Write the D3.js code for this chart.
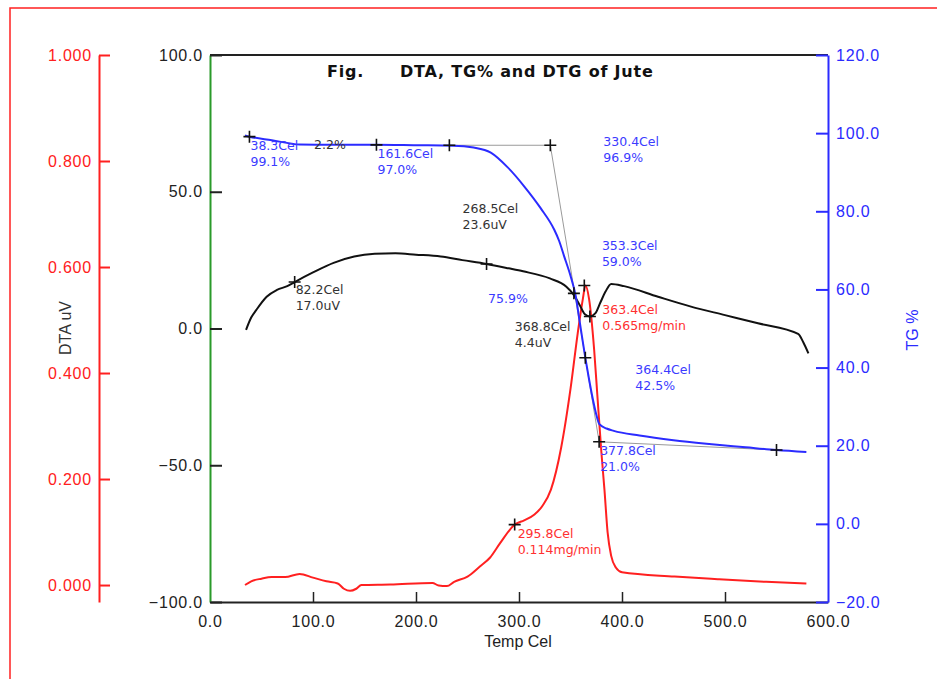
<!DOCTYPE html>
<html>
<head>
<meta charset="utf-8">
<script src="https://cdn.jsdelivr.net/npm/d3@7"></script>
<style>
  body { margin: 0; background: #fff; }
  svg { display: block; }
  .axis text { font-family: "Liberation Sans", Arial, sans-serif; font-size: 16px; letter-spacing: 0.8px; }
  .note { font-family: "DejaVu Sans", Verdana, sans-serif; font-size: 12.5px; }
</style>
</head>
<body>
<div id="chart"></div>
<script>
const width = 937, height = 679;

// DTA (uV) vs temperature (Cel)
const dtaTemp = [35, 40, 45, 55, 65, 75, 82.2, 100, 120, 140, 160, 180, 200, 224, 245, 268.5, 290, 304, 330, 346, 353, 359, 364, 368.8, 374, 379, 384, 389.5, 402, 435, 467, 500, 532, 571, 576, 581];
const dtaVal = [-0.5, 4, 6.8, 11.6, 14.1, 15.5, 17.0, 20.5, 24, 26.3, 27.3, 27.5, 27.0, 26.3, 25.0, 23.6, 22.0, 20.9, 18.3, 15.3, 12.4, 8.5, 5.2, 4.4, 5.5, 9.5, 13.5, 16.3, 15.5, 11.6, 8.0, 4.9, 1.9, -2.0, -5.0, -9.1];

// TG (%) vs temperature
const tgTemp = [34, 38.3, 60, 87, 120, 161.6, 200, 236, 256, 272.6, 288.8, 305, 321, 334, 339, 343.7, 350, 355, 359, 364.4, 368, 372, 375, 378, 385, 392, 417, 450, 482, 520, 550, 579];
const tgVal = [99.4, 99.1, 98.2, 97.1, 97.0, 97.0, 96.9, 96.8, 96.3, 95.0, 91.3, 86.4, 80.8, 75.4, 72.4, 68.6, 63.5, 58.4, 51.6, 42.5, 37, 31.5, 28, 25.5, 24.4, 23.8, 22.6, 21.4, 20.5, 19.6, 18.9, 18.4];

// DTG (mg/min) vs temperature
const dtgTemp = [34, 40, 50, 60, 73, 87, 100, 113, 124, 130, 136, 142, 147, 175, 216, 222, 230, 237, 250, 262, 272, 282, 295.8, 305, 315, 323, 331, 341, 350, 357, 362, 364.5, 368, 373, 376, 380, 383, 386, 389.5, 394, 400, 451, 493, 540, 579];
const dtgVal = [0.0, 0.007, 0.012, 0.015, 0.015, 0.021, 0.014, 0.007, 0.003, -0.007, -0.011, -0.007, 0.0, 0.001, 0.004, -0.001, -0.002, 0.006, 0.016, 0.035, 0.052, 0.080, 0.114, 0.122, 0.133, 0.150, 0.180, 0.26, 0.37, 0.475, 0.54, 0.565, 0.54, 0.443, 0.36, 0.25, 0.179, 0.1, 0.055, 0.033, 0.024, 0.016, 0.011, 0.006, 0.003];

// tick labels
const xTicks = [0, 100, 200, 300, 400, 500, 600];
const dtaTicks = [-100, -50, 0, 50, 100];
const tgTicks = [-20, 0, 20, 40, 60, 80, 100, 120];
const dtgTicks = [0, 0.2, 0.4, 0.6, 0.8, 1.0];

// analysis markers: [temp, value]
const tgMarks = [[38.3, 99.1], [161.6, 97.0], [232.4, 96.9], [330.4, 96.9], [353.3, 59.0], [364.4, 42.5], [377.8, 21.0], [550, 18.9]];
const dtaMarks = [[82.2, 17.0], [268.5, 23.6], [368.8, 4.4]];
const dtgMarks = [[295.8, 0.114], [363.4, 0.565]];

// gray construction lines on TG (temp, %)
const tgGuides = [
  [[232.4, 96.9], [330.4, 96.9]],
  [[330.4, 96.9], [377.8, 21.0]],
  [[377.8, 21.0], [550, 18.9]]
];

// TG annotations: [temp, value, line1, line2]
const tgNotes = [
  [38.3, 99.1, "38.3Cel", "99.1%"],
  [161.6, 97.0, "161.6Cel", "97.0%"],
  [377.8, 21.0, "377.8Cel", "21.0%"]
];

const x = d3.scaleLinear([0, 600], [210, 828]);
const yDTA = d3.scaleLinear([-100, 100], [602, 55]);
const yTG = d3.scaleLinear([-20, 120], [602, 55]);
const yDTG = d3.scaleLinear([-0.032, 1.0], [602, 55]);

const blue = "#2b2bff", red = "#ff2020", green = "#2a9a2a";

const svg = d3.select("#chart").append("svg")
  .attr("width", width).attr("height", height);

// red page frame (only top and left edges are on the page)
svg.append("path")
  .attr("d", `M10,${height}V8H${width}`)
  .attr("fill", "none").attr("stroke", red).attr("stroke-width", 1.5);

// top border
svg.append("line")
  .attr("x1", x(0)).attr("x2", x(600)).attr("y1", 55).attr("y2", 55)
  .attr("stroke", "#222").attr("stroke-width", 2);

// bottom axis
const gx = svg.append("g").attr("class", "axis")
  .attr("transform", "translate(0,602)")
  .call(d3.axisBottom(x).tickValues(xTicks).tickFormat(d3.format(".1f"))
    .tickSize(-10).tickSizeOuter(0).tickPadding(14));
gx.select(".domain").attr("stroke", "#222").attr("stroke-width", 2);
gx.selectAll(".tick line").attr("stroke", "#222").attr("stroke-width", 1.5)
  .attr("opacity", d => (d === 0 || d === 600) ? 0 : 1);
gx.selectAll(".tick text").attr("fill", "#222");

// DTA axis (left, green)
const gDta = svg.append("g").attr("class", "axis")
  .attr("transform", `translate(${x(0)},0)`)
  .call(d3.axisLeft(yDTA).tickValues(dtaTicks).tickFormat(d3.format(".1f"))
    .tickSize(-12).tickSizeOuter(0).tickPadding(7));
gDta.select(".domain").attr("stroke", green).attr("stroke-width", 2);
gDta.selectAll(".tick line").attr("stroke", "#222").attr("stroke-width", 2);
gDta.selectAll(".tick text").attr("fill", "#222");

// DTG axis (outer left, red)
const gDtg = svg.append("g").attr("class", "axis")
  .attr("transform", "translate(99,0)")
  .call(d3.axisLeft(yDTG).tickValues(dtgTicks).tickFormat(d3.format(".3f"))
    .tickSize(-11).tickSizeOuter(0).tickPadding(7));
gDtg.select(".domain").attr("stroke", red).attr("stroke-width", 2);
gDtg.selectAll(".tick line").attr("stroke", red).attr("stroke-width", 2);
gDtg.selectAll(".tick text").attr("fill", red);

// TG axis (right, blue)
const gTg = svg.append("g").attr("class", "axis")
  .attr("transform", `translate(${x(600)},0)`)
  .call(d3.axisRight(yTG).tickValues(tgTicks).tickFormat(d3.format(".1f"))
    .tickSize(-12).tickSizeOuter(0).tickPadding(8));
gTg.select(".domain").attr("stroke", blue).attr("stroke-width", 2);
gTg.selectAll(".tick line").attr("stroke", blue).attr("stroke-width", 2);
gTg.selectAll(".tick text").attr("fill", blue);

// axis titles
const axisFont = "'Liberation Sans', Arial, sans-serif";
svg.append("text")
  .attr("transform", "translate(71,328) rotate(-90)")
  .attr("text-anchor", "middle").attr("font-family", axisFont).attr("font-size", 16)
  .attr("fill", "#333").text("DTA uV");
svg.append("text")
  .attr("transform", "translate(918,330) rotate(-90)")
  .attr("text-anchor", "middle").attr("font-family", axisFont).attr("font-size", 16)
  .attr("fill", blue).text("TG %");
svg.append("text")
  .attr("x", 518).attr("y", 647)
  .attr("text-anchor", "middle").attr("font-family", axisFont).attr("font-size", 16)
  .attr("fill", "#222").text("Temp Cel");

// title
const titleFont = "'DejaVu Sans', Verdana, sans-serif";
svg.append("text").attr("x", 327).attr("y", 77)
  .attr("font-family", titleFont).attr("font-size", 16).attr("font-weight", "bold")
  .attr("letter-spacing", 0.8)
  .attr("fill", "#111").text("Fig.");
svg.append("text").attr("x", 400).attr("y", 77)
  .attr("font-family", titleFont).attr("font-size", 16).attr("font-weight", "bold")
  .attr("letter-spacing", 0.8)
  .attr("fill", "#111").text("DTA, TG% and DTG of Jute");

// guide lines
svg.append("g").selectAll("line")
  .data(tgGuides).join("line")
  .attr("x1", d => x(d[0][0])).attr("y1", d => yTG(d[0][1]))
  .attr("x2", d => x(d[1][0])).attr("y2", d => yTG(d[1][1]))
  .attr("stroke", "#9a9a9a").attr("stroke-width", 1);

// curves
function drawCurve(ts, vs, yScale, color) {
  const pts = ts.map((t, i) => [t, vs[i]]);
  svg.append("path")
    .datum(pts)
    .attr("fill", "none")
    .attr("stroke", color)
    .attr("stroke-width", 2)
    .attr("d", d3.line().x(d => x(d[0])).y(d => yScale(d[1])).curve(d3.curveMonotoneX));
}
drawCurve(dtgTemp, dtgVal, yDTG, red);
drawCurve(dtaTemp, dtaVal, yDTA, "#111");
drawCurve(tgTemp, tgVal, yTG, blue);

// "+" markers
function drawMarks(marks, yScale) {
  svg.append("g").selectAll("path")
    .data(marks).join("path")
    .attr("d", d => {
      const px = x(d[0]), py = yScale(d[1]);
      return `M${px - 6},${py}H${px + 6}M${px},${py - 6}V${py + 6}`;
    })
    .attr("stroke", "#111").attr("stroke-width", 1.6);
}
drawMarks(tgMarks, yTG);
drawMarks(dtaMarks, yDTA);
drawMarks(dtgMarks, yDTG);

// text annotations placed beside the markers
function note(px, py, lines, color) {
  const t = svg.append("text").attr("class", "note").attr("fill", color);
  lines.forEach((s, i) => {
    t.append("tspan").attr("x", px).attr("y", py + i * 16).text(s);
  });
}
const blueTxt = "#3b3bff", redTxt = "#ff3030", grayTxt = "#333";
tgNotes.forEach(d => note(x(d[0]) + 1, yTG(d[1]) + 13, [d[2], d[3]], blueTxt));
note(x(330.4) + 53, yTG(96.9) + 1, ["330.4Cel", "96.9%"], blueTxt);
note(x(353.3) + 28, yTG(59.0) - 43, ["353.3Cel", "59.0%"], blueTxt);
note(x(364.4) + 50, yTG(42.5) + 16, ["364.4Cel", "42.5%"], blueTxt);
note(x(270), yTG(56.5), ["75.9%"], blueTxt);
note(x(101), yTG(96.9) + 4, ["2.2%"], grayTxt);
dtaMarks.forEach((d, i) => {
  const off = [[1, 12], [-24, -51], [-75, 15]][i];
  note(x(d[0]) + off[0], yDTA(d[1]) + off[1], [d[0].toFixed(1) + "Cel", d[1].toFixed(1) + "uV"], grayTxt);
});
note(x(295.8) + 3, yDTG(0.114) + 13, ["295.8Cel", "0.114mg/min"], redTxt);
note(x(363.4) + 18, yDTG(0.565) + 28, ["363.4Cel", "0.565mg/min"], redTxt);
</script>
</body>
</html>
